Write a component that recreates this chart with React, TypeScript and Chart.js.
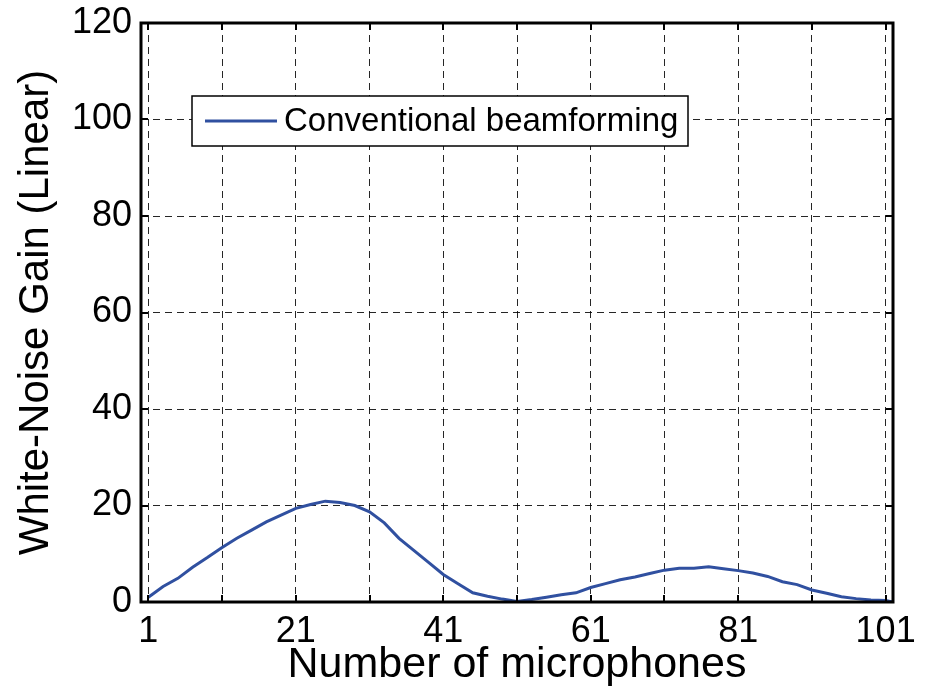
import { useEffect, useRef } from 'react';
import { Chart, registerables } from 'chart.js';

Chart.register(...registerables);

const micCounts = [1, 3, 5, 7, 9, 11, 13, 15, 17, 19, 21, 23, 25, 27, 29, 31, 33, 35, 37, 39, 41, 43, 45, 47, 49, 51, 53, 55, 57, 59, 61, 63, 65, 67, 69, 71, 73, 75, 77, 79, 81, 83, 85, 87, 89, 91, 93, 95, 97, 99, 101, 102];
const wngValues = [1.0, 3.2, 4.9, 7.2, 9.2, 11.3, 13.2, 14.9, 16.6, 18.0, 19.4, 20.2, 20.9, 20.6, 20.0, 18.7, 16.4, 13.2, 10.7, 8.2, 5.7, 3.8, 1.9, 1.2, 0.6, 0.1, 0.5, 1.0, 1.5, 1.9, 3.0, 3.8, 4.6, 5.2, 5.9, 6.6, 7.0, 7.0, 7.3, 6.9, 6.5, 6.0, 5.3, 4.2, 3.6, 2.5, 1.8, 1.1, 0.7, 0.4, 0.3, 0.0];

const xTickValues = [1, 11, 21, 31, 41, 51, 61, 71, 81, 91, 101];
const xLabelValues = [1, 21, 41, 61, 81, 101];
const yTickValues = [0, 20, 40, 60, 80, 100, 120];

const seriesLabel = 'Conventional beamforming';
const xTitle = 'Number of microphones';
const yTitle = 'White-Noise Gain (Linear)';

const FONT = '"Liberation Sans", Arial, Helvetica, sans-serif';
const LINE_COLOR = '#3050a0';

const framePlugin = {
  id: 'matlabFrame',
  afterDraw(chart: any) {
    const { ctx, chartArea: a, scales } = chart;
    const xs = scales.x;
    const ys = scales.y;
    ctx.save();
    ctx.strokeStyle = '#000';
    ctx.lineWidth = 2;
    const tl = 7;
    ctx.beginPath();
    for (const v of xTickValues) {
      const px = Math.round(xs.getPixelForValue(v));
      ctx.moveTo(px, a.bottom);
      ctx.lineTo(px, a.bottom - tl);
      ctx.moveTo(px, a.top);
      ctx.lineTo(px, a.top + tl);
    }
    for (const v of yTickValues) {
      const py = Math.round(ys.getPixelForValue(v));
      ctx.moveTo(a.left, py);
      ctx.lineTo(a.left + tl, py);
      ctx.moveTo(a.right, py);
      ctx.lineTo(a.right - tl, py);
    }
    ctx.stroke();
    ctx.lineWidth = 3;
    ctx.strokeRect(a.left, a.top, a.right - a.left, a.bottom - a.top);

    // legend box
    const lx = a.left + 51;
    const ly = a.top + 73;
    const lw = 496;
    const lh = 50;
    ctx.fillStyle = '#fff';
    ctx.fillRect(lx, ly, lw, lh);
    ctx.lineWidth = 1.5;
    ctx.strokeStyle = '#000';
    ctx.strokeRect(lx, ly, lw, lh);
    const ds = chart.data.datasets[0];
    ctx.strokeStyle = ds.borderColor;
    ctx.lineWidth = 3;
    ctx.beginPath();
    ctx.moveTo(lx + 13, ly + 25);
    ctx.lineTo(lx + 85, ly + 25);
    ctx.stroke();
    ctx.fillStyle = '#000';
    ctx.font = `33px ${FONT}`;
    ctx.textBaseline = 'middle';
    ctx.textAlign = 'left';
    ctx.fillText(ds.label, lx + 92, ly + 26);
    ctx.restore();
  },
};

export default function App() {
  const canvasRef = useRef<HTMLCanvasElement | null>(null);

  useEffect(() => {
    document.body.style.margin = '0';
    const canvas = canvasRef.current;
    if (!canvas) return;
    const points = micCounts.map((m, i) => ({ x: m, y: wngValues[i] }));
    const chart = new Chart(canvas, {
      type: 'line',
      data: {
        datasets: [
          {
            label: seriesLabel,
            data: points,
            borderColor: LINE_COLOR,
            backgroundColor: LINE_COLOR,
            borderWidth: 3,
            pointRadius: 0,
            tension: 0,
            fill: false,
          },
        ],
      },
      plugins: [framePlugin],
      options: {
        animation: false,
        responsive: false,
        layout: { padding: { top: 23, right: 36, left: 0, bottom: 0 } },
        plugins: {
          legend: { display: false },
          tooltip: { enabled: false },
        },
        scales: {
          x: {
            type: 'linear',
            min: 0,
            max: 102,
            afterBuildTicks: (scale: any) => {
              scale.ticks = xTickValues.map((v) => ({ value: v }));
            },
            afterFit: (scale: any) => {
              scale.height = 95;
              scale.paddingLeft = 0;
              scale.paddingRight = 0;
            },
            ticks: {
              autoSkip: false,
              maxRotation: 0,
              padding: 8,
              color: '#000',
              font: { family: FONT, size: 36, lineHeight: 1.2 },
              callback: (v: any) => (xLabelValues.includes(Number(v)) ? String(v) : ''),
            },
            grid: {
              color: 'rgba(0,0,0,0.85)',
              lineWidth: 1,
              drawTicks: false,
            },
            border: { display: false, dash: [7, 5] },
            title: {
              display: true,
              text: xTitle,
              color: '#000',
              font: { family: FONT, size: 43, lineHeight: 1.2 },
              padding: { top: 0, bottom: 6 },
            },
          },
          y: {
            type: 'linear',
            min: 0,
            max: 120,
            afterBuildTicks: (scale: any) => {
              scale.ticks = yTickValues.map((v) => ({ value: v }));
            },
            afterFit: (scale: any) => {
              scale.width = 141;
              scale.paddingTop = 0;
              scale.paddingBottom = 0;
            },
            ticks: {
              padding: 9,
              color: '#000',
              font: { family: FONT, size: 36, lineHeight: 1.2 },
            },
            grid: {
              color: 'rgba(0,0,0,0.85)',
              lineWidth: 1,
              drawTicks: false,
            },
            border: { display: false, dash: [7, 5] },
            title: {
              display: true,
              text: yTitle,
              color: '#000',
              font: { family: FONT, size: 42, lineHeight: 1.2 },
              padding: { top: 11, bottom: 0 },
            },
          },
        },
      },
    });
    return () => chart.destroy();
  }, []);

  return (
    <div style={{ width: 929, height: 697 }}>
      <canvas ref={canvasRef} width={929} height={697} style={{ display: 'block' }} />
    </div>
  );
}
